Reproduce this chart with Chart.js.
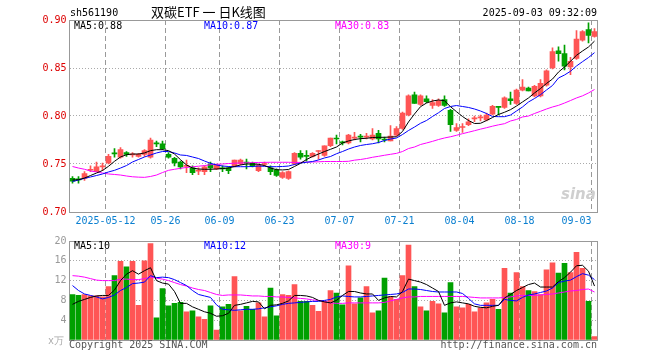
<!DOCTYPE html>
<html>
<head>
<meta charset="utf-8">
<script src="https://cdn.jsdelivr.net/npm/chart.js@4"></script>
<style>
body { margin: 0; background: #fff; width: 660px; height: 360px; position: relative; overflow: hidden; }
canvas { position: absolute; left: 0; }
#kline { top: 0; }
#vol { top: 232px; }
.t { position: absolute; font: 10px/10px "DejaVu Sans Mono", monospace; white-space: pre; }
</style>
</head>
<body>
<canvas id="kline" width="660" height="232"></canvas>
<canvas id="vol" width="660" height="128"></canvas>

<div class="t" style="left:70px;top:8px;color:#000">sh561190</div>
<div style="position:absolute;left:151px;top:5px;font:13px/13px 'Noto Sans CJK SC',sans-serif;color:#000;white-space:pre">双碳ETF 一 日K线图</div>
<div class="t" style="right:63px;top:8px;color:#000">2025-09-03 09:32:09</div>

<div class="t" style="left:74px;top:21px;color:#000">MA5:0.88</div>
<div class="t" style="left:204px;top:21px;color:#0000ff">MA10:0.87</div>
<div class="t" style="left:335px;top:21px;color:#ff00ff">MA30:0.83</div>

<div class="t" style="left:74px;top:241px;color:#000">MA5:10</div>
<div class="t" style="left:204px;top:241px;color:#0000ff">MA10:12</div>
<div class="t" style="left:335px;top:241px;color:#ff00ff">MA30:9</div>

<div class="t" style="left:48px;top:336px;color:#aaa">x万</div>
<div class="t" style="left:69px;top:340px;color:#555">Copyright 2025 SINA.COM</div>
<div class="t" style="right:63px;top:340px;color:#555">http://finance.sina.com.cn</div>
<div style="position:absolute;left:561px;top:187px;font:italic bold 15px/15px 'DejaVu Sans',sans-serif;color:#cfcfcf">sina</div>

<script>
// trading days (2025)
const days = ['04-29','04-30','05-06','05-07','05-08','05-09','05-12','05-13','05-14','05-15',
  '05-16','05-19','05-20','05-21','05-22','05-23','05-26','05-27','05-28','05-29',
  '05-30','06-03','06-04','06-05','06-06','06-09','06-10','06-11','06-12','06-13',
  '06-16','06-17','06-18','06-19','06-20','06-23','06-24','06-25','06-26','06-27',
  '06-30','07-01','07-02','07-03','07-04','07-07','07-08','07-09','07-10','07-11',
  '07-14','07-15','07-16','07-17','07-18','07-21','07-22','07-23','07-24','07-25',
  '07-28','07-29','07-30','07-31','08-01','08-04','08-05','08-06','08-07','08-08',
  '08-11','08-12','08-13','08-14','08-15','08-18','08-19','08-20','08-21','08-22',
  '08-25','08-26','08-27','08-28','08-29','09-01','09-02','09-03'];
const markDays = ['05-12','05-26','06-09','06-23','07-07','07-21','08-04','08-18','09-03'];

const openP = [0.735,0.734,0.735,0.7435,0.742,0.747,0.751,0.761,0.757,0.762,
  0.7595,0.758,0.760,0.757,0.7715,0.771,0.760,0.756,0.752,0.7475,
  0.746,0.7425,0.742,0.750,0.745,0.7455,0.746,0.748,0.750,0.7515,
  0.751,0.743,0.7495,0.746,0.744,0.736,0.735,0.750,0.761,0.7585,
  0.758,0.763,0.759,0.769,0.7765,0.7725,0.772,0.777,0.7785,0.778,
  0.776,0.782,0.7755,0.774,0.780,0.787,0.801,0.822,0.812,0.818,
  0.811,0.811,0.817,0.806,0.785,0.788,0.791,0.797,0.798,0.796,
  0.802,0.8095,0.809,0.818,0.813,0.827,0.829,0.821,0.821,0.832,
  0.850,0.868,0.865,0.851,0.860,0.879,0.890,0.883];
const highP = [0.737,0.737,0.742,0.748,0.752,0.751,0.760,0.766,0.767,0.763,
  0.762,0.761,0.765,0.777,0.774,0.774,0.762,0.757,0.753,0.754,
  0.748,0.746,0.748,0.752,0.750,0.748,0.747,0.754,0.755,0.755,
  0.752,0.750,0.752,0.748,0.745,0.742,0.743,0.762,0.764,0.764,
  0.762,0.764,0.769,0.777,0.780,0.774,0.781,0.783,0.781,0.782,
  0.787,0.785,0.778,0.790,0.789,0.804,0.822,0.825,0.822,0.821,
  0.817,0.818,0.821,0.807,0.792,0.792,0.797,0.800,0.801,0.803,
  0.811,0.810,0.820,0.825,0.828,0.838,0.830,0.832,0.838,0.848,
  0.871,0.872,0.874,0.861,0.889,0.889,0.897,0.891];
const lowP = [0.730,0.730,0.733,0.742,0.742,0.743,0.750,0.757,0.756,0.758,
  0.757,0.757,0.758,0.756,0.768,0.765,0.756,0.748,0.745,0.741,
  0.739,0.739,0.739,0.742,0.744,0.742,0.740,0.747,0.749,0.745,
  0.747,0.742,0.748,0.739,0.737,0.735,0.734,0.749,0.755,0.753,
  0.757,0.755,0.758,0.768,0.771,0.770,0.771,0.775,0.773,0.776,
  0.775,0.772,0.773,0.774,0.779,0.786,0.800,0.813,0.811,0.814,
  0.808,0.810,0.810,0.784,0.784,0.783,0.790,0.794,0.795,0.795,
  0.801,0.801,0.808,0.812,0.812,0.826,0.826,0.820,0.820,0.831,
  0.849,0.857,0.848,0.843,0.859,0.878,0.876,0.882];
const closeP = [0.732,0.7335,0.740,0.744,0.747,0.7475,0.758,0.7605,0.765,0.760,
  0.760,0.760,0.764,0.775,0.771,0.766,0.757,0.751,0.747,0.748,
  0.741,0.743,0.747,0.746,0.749,0.745,0.743,0.754,0.754,0.751,
  0.748,0.749,0.750,0.742,0.738,0.741,0.742,0.761,0.757,0.758,
  0.761,0.7635,0.769,0.777,0.776,0.772,0.780,0.7775,0.778,0.7785,
  0.780,0.776,0.775,0.779,0.787,0.803,0.821,0.813,0.821,0.815,
  0.814,0.816,0.811,0.791,0.788,0.7885,0.794,0.7975,0.7985,0.801,
  0.810,0.809,0.819,0.816,0.827,0.830,0.826,0.831,0.834,0.847,
  0.867,0.865,0.852,0.857,0.880,0.888,0.884,0.888];

const ma5 = [0.7333,0.7336,0.7354,0.7380,0.7406,0.7432,0.7476,0.7528,0.7573,0.7597,
  0.7604,0.7604,0.7615,0.7639,0.7649,0.7649,0.7639,0.7604,0.7545,0.7490,
  0.7458,0.7448,0.7445,0.7445,0.7448,0.7453,0.7458,0.7474,0.7490,0.7500,
  0.7500,0.7497,0.7484,0.7458,0.7441,0.7438,0.7443,0.7474,0.7507,0.7547,
  0.7578,0.7604,0.7630,0.7653,0.7677,0.7719,0.7740,0.7755,0.7764,0.7768,
  0.7776,0.7778,0.7778,0.7781,0.7784,0.7839,0.7938,0.8021,0.8097,0.8135,
  0.8156,0.8167,0.8159,0.8097,0.8045,0.7995,0.7953,0.7922,0.7924,0.7953,
  0.7984,0.8016,0.8039,0.8066,0.8104,0.8146,0.8188,0.8240,0.8286,0.8339,
  0.8385,0.8458,0.8510,0.8570,0.8632,0.8677,0.8719,0.8780];
const ma10 = [0.7318,0.7333,0.7351,0.7365,0.7380,0.7396,0.7417,0.7434,0.7458,0.7484,
  0.7521,0.7547,0.7573,0.7594,0.7615,0.7630,0.7630,0.7615,0.7594,0.7589,
  0.7573,0.7557,0.7531,0.7507,0.7490,0.7479,0.7474,0.7472,0.7472,0.7472,
  0.7474,0.7479,0.7476,0.7472,0.7472,0.7474,0.7479,0.7495,0.7510,0.7518,
  0.7526,0.7542,0.7563,0.7578,0.7607,0.7630,0.7656,0.7677,0.7693,0.7703,
  0.7711,0.7724,0.7745,0.7760,0.7771,0.7807,0.7849,0.7885,0.7924,0.7953,
  0.7995,0.8034,0.8078,0.8099,0.8109,0.8099,0.8089,0.8073,0.8052,0.8026,
  0.7995,0.7993,0.7993,0.8010,0.8052,0.8094,0.8146,0.8182,0.8222,0.8271,
  0.8318,0.8396,0.8427,0.8466,0.8521,0.8566,0.8609,0.8660];
const ma30 = [0.7474,0.7458,0.7445,0.7427,0.7417,0.7406,0.7396,0.7391,0.7385,0.7375,
  0.7367,0.7363,0.7361,0.7370,0.7385,0.7411,0.7434,0.7445,0.7455,0.7464,
  0.7471,0.7477,0.7484,0.7492,0.7497,0.7500,0.7505,0.7508,0.7511,0.7512,
  0.7515,0.7516,0.7517,0.7518,0.7518,0.7518,0.7518,0.7516,0.7517,0.7519,
  0.7521,0.7523,0.7526,0.7526,0.7526,0.7526,0.7528,0.7540,0.7547,0.7557,
  0.7570,0.7580,0.7591,0.7601,0.7611,0.7630,0.7661,0.7677,0.7703,0.7719,
  0.7736,0.7755,0.7771,0.7784,0.7799,0.7816,0.7831,0.7847,0.7863,0.7878,
  0.7894,0.7908,0.7920,0.7948,0.7964,0.7990,0.8000,0.8026,0.8049,0.8073,
  0.8094,0.8111,0.8135,0.8161,0.8188,0.8210,0.8240,0.8276];

// volume, in 10k lots
const vol = [9.2,9.0,9.2,8.9,8.9,8.7,10.8,13.0,15.9,14.8,
  15.9,7.0,16.0,19.5,4.5,10.4,6.9,7.4,7.6,5.7,
  5.9,4.7,4.2,6.9,2.0,6.7,7.2,12.8,5.9,6.8,
  6.2,7.5,4.7,10.5,4.9,9.2,9.0,11.2,7.8,7.8,
  7.0,5.8,7.8,10.0,9.5,7.1,15.0,7.3,8.5,10.8,
  5.5,5.9,12.5,8.7,8.2,13.0,19.2,10.8,6.7,5.9,
  7.8,7.3,5.5,11.6,6.7,6.5,7.2,5.7,6.5,7.5,
  8.2,6.2,14.5,9.5,13.6,10.8,10.0,9.8,9.2,14.2,
  15.6,13.5,15.5,13.6,17.7,14.5,7.8,0.7];
const volMa5 = [7.2,7.8,8.2,8.6,8.9,9.0,9.0,10.1,12.0,13.3,
  14.0,13.3,14.0,14.6,12.0,11.5,11.3,9.8,7.4,7.4,
  6.7,6.2,5.7,5.4,4.8,4.9,5.4,7.0,7.2,7.5,
  7.8,7.7,6.3,7.0,7.1,7.4,7.9,9.0,9.0,8.9,
  8.6,8.0,7.7,7.5,8.0,9.0,9.8,9.8,9.5,9.3,
  9.3,8.0,8.5,8.8,8.7,9.8,12.3,12.0,11.7,11.2,
  10.5,9.8,7.0,7.5,7.7,7.5,7.3,6.8,6.6,6.5,
  6.8,7.0,8.5,9.2,10.0,10.6,11.2,11.5,10.7,10.7,
  10.7,11.8,12.6,13.7,15.0,15.1,13.9,10.9];
const volMa10 = [11.0,10.0,9.3,9.0,8.7,8.3,8.6,9.1,10.0,10.6,
  11.4,11.5,11.7,13.0,12.6,12.7,12.6,12.2,11.6,11.0,
  10.0,9.2,8.9,8.6,7.1,6.2,6.1,6.0,6.1,6.2,
  6.2,6.3,6.5,6.7,6.9,7.2,7.4,7.5,7.6,7.7,
  7.8,7.8,8.0,8.2,8.7,8.9,8.8,8.7,8.7,8.8,
  8.9,9.0,9.1,9.2,9.3,9.6,10.3,10.3,10.2,10.0,
  9.8,9.7,9.7,9.7,9.7,9.4,8.4,7.3,7.0,7.0,
  7.0,7.0,8.2,8.0,7.9,8.6,9.1,9.3,9.6,9.9,
  10.5,11.6,11.9,12.1,12.8,13.4,13.1,12.2];
const volMa30 = [13.0,12.9,12.7,12.4,12.1,12.0,12.0,12.0,12.3,12.3,
  12.2,12.2,12.4,12.7,12.5,12.3,12.0,11.6,11.2,10.9,
  10.5,10.2,10.0,9.6,9.2,9.0,9.1,9.1,9.1,9.0,
  8.9,8.9,8.8,8.8,8.7,8.7,8.6,8.5,8.4,8.3,
  8.1,8.0,7.8,7.5,7.4,7.4,7.5,7.5,7.5,7.5,
  7.5,7.5,7.6,7.9,8.2,8.5,8.7,8.7,8.8,8.8,
  8.8,8.8,8.8,8.8,8.8,8.8,8.7,8.6,8.5,8.5,
  8.5,8.5,8.6,8.7,8.9,9.0,9.0,9.0,9.1,9.2,
  9.3,9.5,9.7,9.9,10.0,10.2,10.3,9.7];

const FONT = '"DejaVu Sans Mono", monospace';
const RED = '#ff5555', GREEN = '#00a000';
const colors = closeP.map((c, i) => c >= openP[i] ? RED : GREEN);

// gray box round the plot area
const frame = {
  id: 'frame',
  beforeDatasetsDraw(chart) {
    const a = chart.chartArea, ctx = chart.ctx;
    ctx.save();
    ctx.strokeStyle = '#999';
    ctx.lineWidth = 1;
    ctx.strokeRect(Math.floor(a.left) + 0.5, Math.floor(a.top) + 0.5,
      Math.round(a.right - a.left), Math.round(a.bottom - a.top));
    ctx.restore();
  }
};

function xScale(showLabels) {
  return {
    offset: true,
    grid: {
      offset: true, drawTicks: false, lineWidth: 1,
      color: c => markDays.includes(days[c.index]) ? '#999' : 'rgba(0,0,0,0)'
    },
    border: { display: false, dash: [5, 3] },
    ticks: {
      display: showLabels, autoSkip: false, maxRotation: 0, padding: 3, labelOffset: -3,
      color: '#0a7fd0', font: { family: FONT, size: 10 },
      callback: (v, i) => {
        const d = days[i];
        if (!markDays.includes(d)) return '';
        if (d === markDays[0]) return '2025-' + d;
        if (i === days.length - 1) return d + '     ';
        return d;
      }
    },
    afterFit: s => { s.height = 20; }
  };
}

function maLine(data, color) {
  return { type: 'line', data: data, borderColor: color, borderWidth: 1,
    pointRadius: 0, tension: 0, order: 0 };
}

new Chart(document.getElementById('kline'), {
  type: 'bar',
  data: {
    labels: days,
    datasets: [
      maLine(ma5, '#000000'),
      maLine(ma10, '#0000ff'),
      maLine(ma30, '#ff00ff'),
      { data: lowP.map((l, i) => [l, highP[i]]), backgroundColor: colors,
        barThickness: 1, grouped: false, order: 2 },
      { data: openP.map((o, i) => [o, closeP[i]]), backgroundColor: colors,
        barThickness: 5, minBarLength: 1, grouped: false, order: 1 }
    ]
  },
  options: {
    responsive: false,
    animation: false,
    layout: { padding: { top: 20, right: 62.5, left: 0.5, bottom: 0 } },
    plugins: { legend: { display: false }, tooltip: { enabled: false } },
    scales: {
      x: xScale(true),
      y: {
        min: 0.7, max: 0.9,
        ticks: { stepSize: 0.05, padding: 3, color: '#dd0000', font: { family: FONT, size: 10 },
          callback: v => v.toFixed(2) },
        grid: { drawTicks: false, color: '#aaa' },
        border: { display: false, dash: [1, 2] },
        afterFit: s => { s.width = 69; }
      }
    }
  },
  plugins: [frame]
});

new Chart(document.getElementById('vol'), {
  type: 'bar',
  data: {
    labels: days,
    datasets: [
      maLine(volMa5, '#000000'),
      maLine(volMa10, '#0000ff'),
      maLine(volMa30, '#ff00ff'),
      { data: vol, backgroundColor: colors, barThickness: 5, order: 1 }
    ]
  },
  options: {
    responsive: false,
    animation: false,
    layout: { padding: { top: 8, right: 62.5, left: 0.5, bottom: 0 } },
    plugins: { legend: { display: false }, tooltip: { enabled: false } },
    scales: {
      x: xScale(false),
      y: {
        min: 0, max: 20,
        ticks: { stepSize: 4, padding: 3, color: '#999', font: { family: FONT, size: 10 },
          callback: v => v === 0 ? '' : v },
        grid: { drawTicks: false, color: '#aaa' },
        border: { display: false, dash: [1, 2] },
        afterFit: s => { s.width = 69; }
      }
    }
  },
  plugins: [frame]
});
</script>
</body>
</html>
